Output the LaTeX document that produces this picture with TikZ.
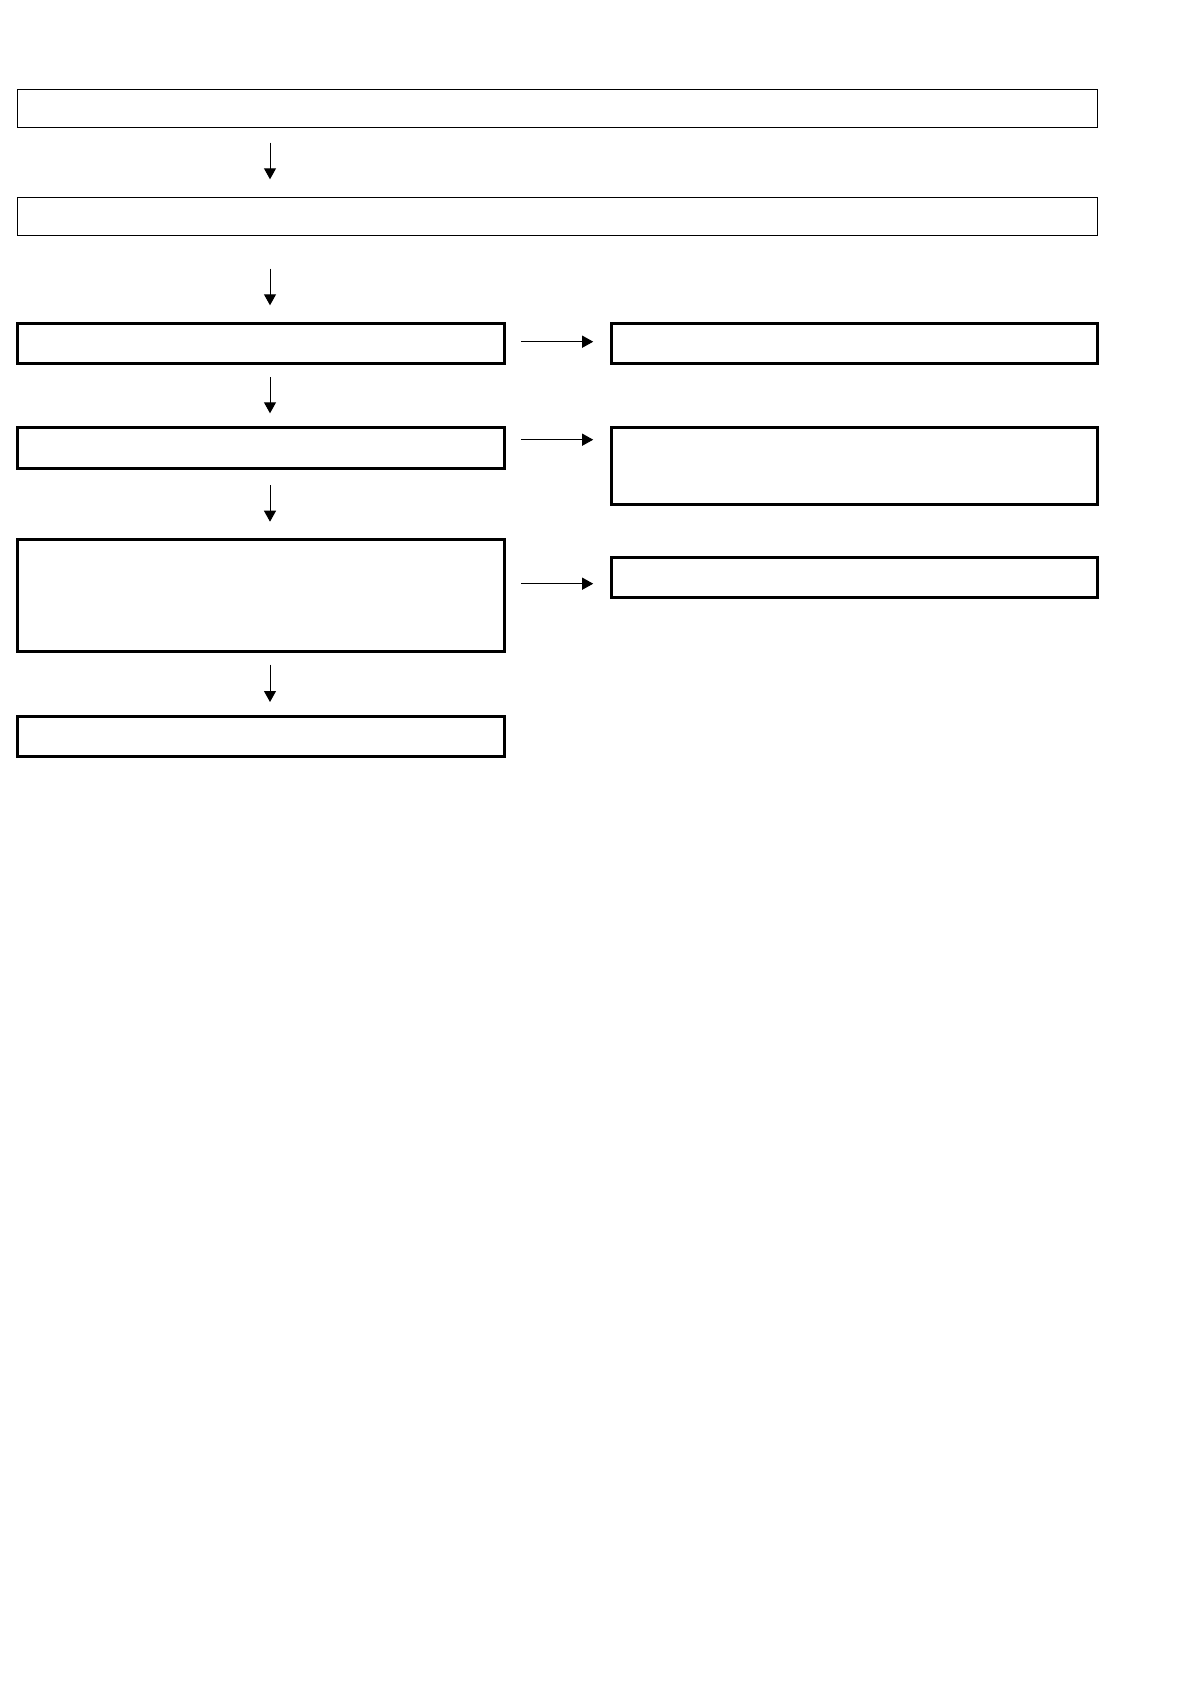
\documentclass[tikz,border=0pt]{standalone}
\usetikzlibrary{arrows.meta}
\begin{document}
\begin{tikzpicture}[x=0.5pt, y=-0.5pt,
    flowbox/.style={draw, line width=1.5pt, anchor=north west, outer sep=0pt, inner sep=0pt},
    widebox/.style={flowbox, line width=0.7pt, minimum width=540.1pt},
    leftbox/.style={flowbox, minimum width=243.6pt},
    rightbox/.style={flowbox, minimum width=243.1pt},
    arr/.style={line width=0.5pt, -{Triangle[length=5.5pt, width=6pt]}}]
    \useasboundingbox (0,0) rectangle (1190,1684);
    % the two long boxes at the top
    \node[widebox, minimum height=19.2pt] (top) at (17.2,89.3) {};
    \node[widebox, minimum height=19.2pt] (second) at (17.2,197.3) {};
    % left column
    \node[leftbox, minimum height=20pt] (l3) at (17.2,323.3) {};
    \node[leftbox, minimum height=20.3pt] (l4) at (17.2,427.7) {};
    \node[leftbox, minimum height=56.2pt] (l5) at (17.2,539.3) {};
    \node[leftbox, minimum height=20.4pt] (l6) at (17.2,716) {};
    % right column
    \node[rightbox, minimum height=20pt] (r3) at (611.2,323.3) {};
    \node[rightbox, minimum height=38.3pt] (r4) at (611.2,427.7) {};
    \node[rightbox, minimum height=19.8pt] (r5) at (611.2,557.7) {};
    \coordinate (ax) at (270,0);
    \foreach \a/\b/\s/\e in {top/second/7.5/9, second/l3/16.5/9, l3/l4/7/7.2, l4/l5/8.5/8.8, l5/l6/6.5/7}{
        \draw[arr, shorten <={\s pt}, shorten >={\e pt}] (\a.south -| ax) -- (\b.north -| ax);
    }
    \foreach \a/\b/\y in {l3/r3/341.7, l4/r4/439.7, l5/r5/583.7}{
        \coordinate (h) at (0,\y);
        \draw[arr, shorten <=8.5pt, shorten >=9pt] (\a.east |- h) -- (\b.west |- h);
    }
\end{tikzpicture}
\end{document}
